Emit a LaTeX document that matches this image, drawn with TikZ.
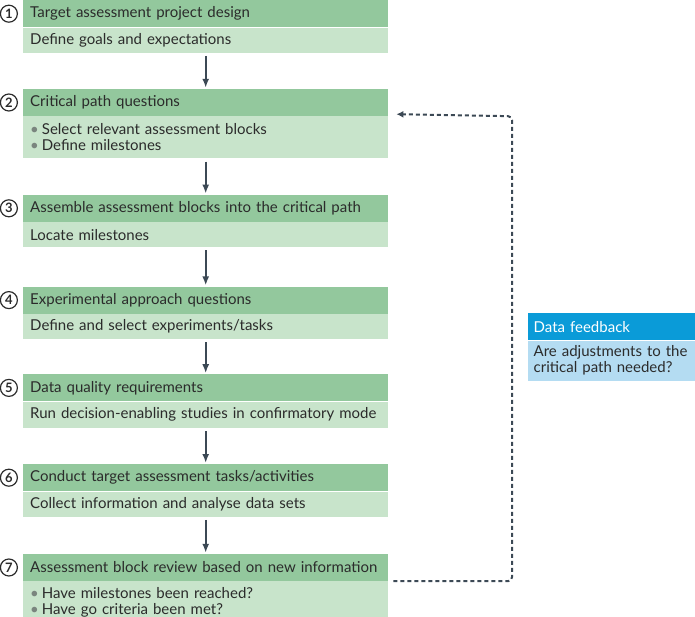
\documentclass[tikz,border=0pt]{standalone}
\usepackage{fontspec}
\setmainfont{Lato}
\usetikzlibrary{positioning,arrows.meta}
\definecolor{headgreen}{HTML}{93C89D}
\definecolor{bodygreen}{HTML}{C8E4CB}
\definecolor{headblue}{HTML}{0A9BD8}
\definecolor{bodyblue}{HTML}{B4DCF2}
\definecolor{arrowgrey}{HTML}{3C4955}
\definecolor{textgrey}{HTML}{2B2B2B}
\definecolor{dotgrey}{HTML}{7A857E}
\newcommand{\bul}{{\color{dotgrey}\textbullet}\hspace{3pt}}

\begin{document}
\begin{tikzpicture}[x=1pt, y=-1pt,
    font=\fontsize{15}{16}\selectfont, text=textgrey,
    stephead/.style={fill=headgreen, text width=351pt, inner xsep=7pt, inner ysep=0pt, minimum height=27pt, align=left},
    stepbody/.style={fill=bodygreen, text width=351pt, inner xsep=7pt, inner ysep=0pt, minimum height=#1, align=left},
    stepbody/.default=25pt,
    stepnum/.style={draw=textgrey, circle, line width=1.2pt, inner sep=0pt, minimum size=17pt, font=\fontsize{13}{13}\selectfont\bfseries},
    flow/.style={draw=arrowgrey, line width=2pt, -{Latex[length=9pt,width=7pt]}, shorten <=3pt, shorten >=1pt},
    feedback/.style={draw=arrowgrey, line width=2pt, dash pattern=on 4pt off 3pt, rounded corners=4pt, -{Latex[length=7pt,width=7pt]}}]
    \useasboundingbox (0,0) rectangle (695,617);

    \node [stephead, anchor=north west] (h1) at (23,0) {Target assessment project design};
    \node [stepbody, below=0pt of h1] (b1) {Define goals and expectations};
    \node [stepnum, left=5pt of h1] (n1) {1};

    \node [stephead, below=36pt of b1] (h2) {Critical path questions};
    \node [stepbody=42pt, below=0pt of h2] (b2) {\bul Select relevant assessment blocks\\\bul Define milestones};
    \node [stepnum, left=5pt of h2] (n2) {2};

    \node [stephead, below=36pt of b2] (h3) {Assemble assessment blocks into the critical path};
    \node [stepbody, below=0pt of h3] (b3) {Locate milestones};
    \node [stepnum, left=5pt of h3] (n3) {3};

    \node [stephead, below=39pt of b3] (h4) {Experimental approach questions};
    \node [stepbody, below=0pt of h4] (b4) {Define and select experiments/tasks};
    \node [stepnum, left=5pt of h4] (n4) {4};

    \node [stephead, below=35pt of b4] (h5) {Data quality requirements};
    \node [stepbody=26pt, below=0pt of h5] (b5) {Run decision-enabling studies in confirmatory mode};
    \node [stepnum, left=5pt of h5] (n5) {5};

    \node [stephead, below=36pt of b5] (h6) {Conduct target assessment tasks/activities};
    \node [stepbody, below=0pt of h6] (b6) {Collect information and analyse data sets};
    \node [stepnum, left=5pt of h6] (n6) {6};

    \node [stephead, below=37pt of b6] (h7) {Assessment block review based on new information};
    \node [stepbody=42pt, below=0pt of h7] (b7) {\bul Have milestones been reached?\\\bul Have go criteria been met?};
    \node [stepnum, left=5pt of h7] (n7) {7};

    % data feedback box
    \node [fill=headblue, text=white, anchor=north west, text width=156pt, inner xsep=5.5pt, inner ysep=0pt, minimum height=27pt, align=left] (fbh) at (528,313) {Data feedback};
    \node [fill=bodyblue, text width=156pt, inner xsep=5.5pt, inner ysep=0pt, minimum height=40pt, align=left, below=0pt of fbh] (fbb) {\mbox{Are adjustments to the}\\critical path needed?};

    \foreach \a/\b in {b1/h2, b2/h3, b3/h4, b4/h5, b5/h6, b6/h7}
        \draw [flow] (\a) -- (\b);

    \coordinate (loop) at (512,0);
    \draw [feedback] ([xshift=5pt]h7.south east) -- (loop |- h7.south east) -- (loop |- h2.south east) -- ([xshift=8pt,yshift=2pt]h2.south east);
\end{tikzpicture}
\end{document}
